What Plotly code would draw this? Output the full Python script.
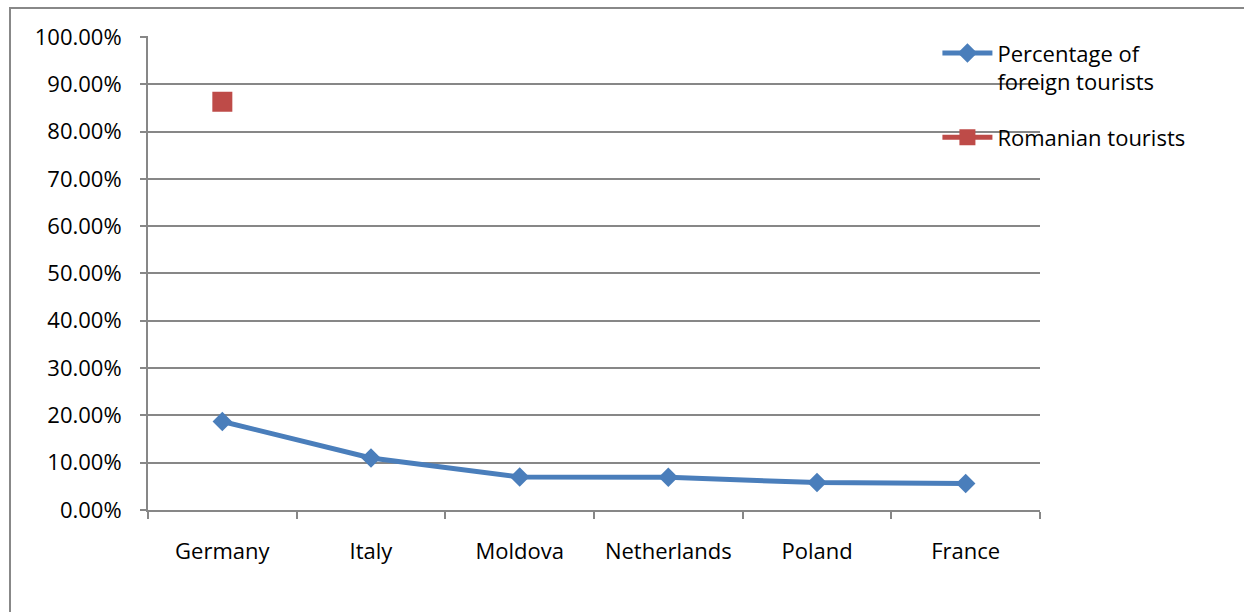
import plotly.graph_objects as go

categories = ["Germany", "Italy", "Moldova", "Netherlands", "Poland", "France"]
foreign_pct = [0.187, 0.110, 0.070, 0.069, 0.058, 0.056]
romanian_pct = [0.863, None, None, None, None, None]
y_ticks = [i / 10 for i in range(11)]

FONT = "Open Sans"
fig = go.Figure()
fig.add_trace(go.Scatter(
    x=categories, y=foreign_pct, mode="lines+markers",
    name="Percentage of<br>foreign tourists", legendgroup="a",
    line=dict(color="#4A7EBB", width=5),
    marker=dict(symbol="diamond", size=15, color="#4A7EBB"),
))
fig.add_trace(go.Scatter(
    x=categories, y=romanian_pct, mode="lines+markers",
    name="Romanian tourists", legendgroup="b",
    line=dict(color="#BE4B48", width=5),
    marker=dict(symbol="square", size=20, color="#BE4B48"),
))

fig.update_layout(
    width=1244, height=612,
    margin=dict(l=148, r=204, t=36, b=102),
    plot_bgcolor="white", paper_bgcolor="white",
    font=dict(family=FONT, size=22, color="#000000"),
    showlegend=True,
    legend=dict(x=0.885, y=1.008, xanchor="left", yanchor="top",
                bgcolor="rgba(0,0,0,0)", tracegroupgap=24, valign="top",
                itemwidth=50, font=dict(size=22)),
    xaxis=dict(type="category", tickson="boundaries", ticks="outside", ticklen=7,
               tickcolor="#878787", tickwidth=2, showgrid=False,
               showline=True, linecolor="#878787", linewidth=2,
               ticklabelstandoff=21, range=[-0.5, 5.5]),
    yaxis=dict(range=[0, 1.002], tickvals=y_ticks, tickformat=".2%", ticks="outside",
               ticklen=6, tickcolor="#878787", tickwidth=2,
               showgrid=True, gridcolor="#878787", gridwidth=2,
               showline=True, linecolor="#878787", linewidth=2,
               zeroline=False, ticklabelstandoff=14),
)
fig.add_shape(type="rect", xref="paper", yref="paper",
              x0=(10 - 148) / 892, x1=1.3, y0=-0.5, y1=(510 - 8) / 474,
              line=dict(color="#888888", width=2), fillcolor="rgba(0,0,0,0)", layer="below")
fig.write_html("out.html")
